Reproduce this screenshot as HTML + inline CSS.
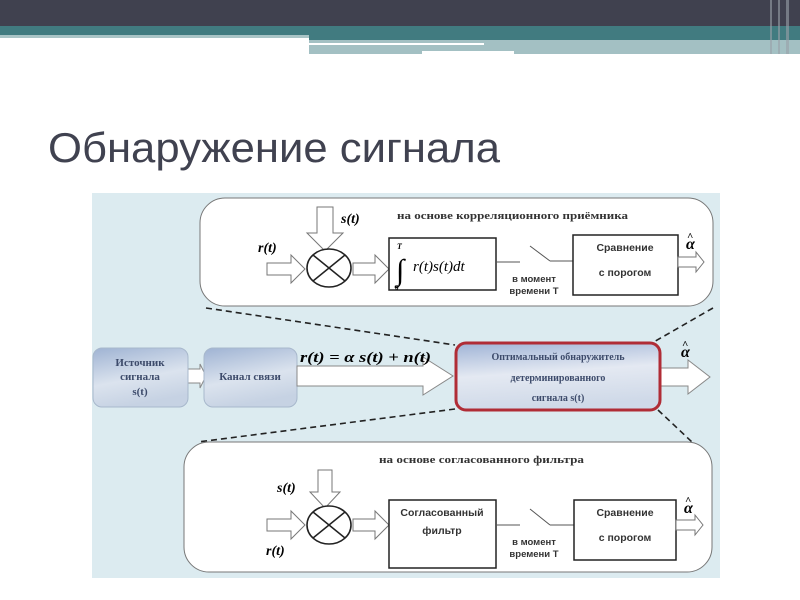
<!DOCTYPE html>
<html><head><meta charset="utf-8"><style>
html,body{margin:0;padding:0;background:#fff;}
svg{display:block}
.s{font-family:"Liberation Serif",serif;font-weight:bold;}
.a{font-family:"Liberation Sans",sans-serif;}
.m{font-family:"Liberation Serif",serif;font-style:italic;font-weight:bold;}
</style></head><body>
<svg width="800" height="600" viewBox="0 0 800 600" xmlns="http://www.w3.org/2000/svg">
<defs>
<linearGradient id="g" x1="0" y1="0" x2="0.3" y2="1">
<stop offset="0" stop-color="#9fb3d3"/><stop offset="0.6" stop-color="#dbe3ee"/><stop offset="1" stop-color="#c6d2e3"/></linearGradient>
<linearGradient id="gr" x1="0" y1="0" x2="0.2" y2="1">
<stop offset="0" stop-color="#9fb3d6"/><stop offset="0.5" stop-color="#e4e9f2"/><stop offset="1" stop-color="#cfd9e8"/></linearGradient>
</defs>
<rect x="0" y="0" width="800" height="26" fill="#40414f"/>
<rect x="0" y="26" width="800" height="9" fill="#417b80"/>
<rect x="0" y="35" width="309" height="3" fill="#a9c4c6"/>
<rect x="309" y="35" width="491" height="5" fill="#417b80"/>
<rect x="309" y="40" width="491" height="14" fill="#a3c0c3"/>
<rect x="309" y="43" width="175" height="2" fill="#fff"/>
<rect x="422" y="51" width="92" height="3" fill="#fff"/>
<rect x="508" y="51" width="0" height="3" fill="#fff"/>
<rect x="770" y="0" width="2" height="54" fill="#9aa0a8" opacity="0.6"/>
<rect x="778" y="0" width="2" height="54" fill="#9aa0a8" opacity="0.6"/>
<rect x="786" y="0" width="3" height="54" fill="#9aa0a8" opacity="0.6"/>
<text x="48" y="162" class="a" font-size="42" fill="#404250" textLength="452" lengthAdjust="spacingAndGlyphs">Обнаружение сигнала</text>

<rect x="92" y="193" width="628" height="385" fill="#dcebf0"/>

<!-- top box -->
<rect x="200" y="198" width="513" height="108" rx="25" fill="#fff" stroke="#777" stroke-width="1"/>
<text x="397" y="219" class="s" font-size="10" fill="#333" textLength="231" lengthAdjust="spacingAndGlyphs">на основе корреляционного приёмника</text>
<polygon points="317,207 333,207 333,233 343,233 325,251 307,233 317,233" fill="#fff" stroke="#777"/>
<text x="341" y="223" class="m" font-size="14">s(t)</text>
<text x="258" y="252" class="m" font-size="14">r(t)</text>
<polygon points="267,263 291,263 291,255 305,269 291,283 291,275 267,275" fill="#fff" stroke="#777"/>
<ellipse cx="329" cy="268" rx="22" ry="19" fill="#fff" stroke="#222" stroke-width="1.6"/>
<line x1="313" y1="255" x2="345" y2="281" stroke="#222" stroke-width="1.5"/>
<line x1="345" y1="255" x2="313" y2="281" stroke="#222" stroke-width="1.5"/>
<polygon points="353,263 375,263 375,255 389,269 375,283 375,275 353,275" fill="#fff" stroke="#777"/>
<rect x="389" y="238" width="107" height="52" fill="#fff" stroke="#222" stroke-width="1.5"/>
<text x="397" y="249" class="m" font-size="8">T</text>
<text x="396" y="280" font-family="Liberation Serif,serif" font-size="30">∫</text>
<text x="395" y="290" class="s" font-size="7">0</text>
<text x="413" y="271" font-family="Liberation Serif,serif" font-style="italic" font-size="15">r(t)s(t)dt</text>
<line x1="496" y1="262" x2="520" y2="262" stroke="#555"/>
<line x1="530" y1="246" x2="550" y2="261" stroke="#555"/>
<line x1="550" y1="261" x2="573" y2="261" stroke="#555"/>
<text x="534" y="282" class="a" font-weight="bold" font-size="9.5" fill="#333" text-anchor="middle">в момент</text>
<text x="534" y="294" class="a" font-weight="bold" font-size="9.5" fill="#333" text-anchor="middle">времени T</text>
<rect x="573" y="235" width="105" height="60" fill="#fff" stroke="#222" stroke-width="1.5"/>
<text x="625" y="251" class="a" font-weight="bold" font-size="10.5" fill="#333" text-anchor="middle">Сравнение</text>
<text x="625" y="276" class="a" font-weight="bold" font-size="10.5" fill="#333" text-anchor="middle">с порогом</text>
<polygon points="678,257 696,257 696,252 704,262 696,272 696,267 678,267" fill="#fff" stroke="#777"/>
<text x="686" y="249" class="m" font-size="16">α</text>
<text x="687" y="240" class="s" font-size="11">^</text>

<!-- dashes -->
<line x1="206" y1="308" x2="455" y2="345" stroke="#222" stroke-width="1.6" stroke-dasharray="6,4"/>
<line x1="713" y1="308" x2="652" y2="343" stroke="#222" stroke-width="1.6" stroke-dasharray="6,4"/>
<line x1="455" y1="409" x2="198" y2="442" stroke="#222" stroke-width="1.6" stroke-dasharray="6,4"/>
<line x1="658" y1="410" x2="692" y2="442" stroke="#222" stroke-width="1.6" stroke-dasharray="6,4"/>

<!-- middle -->
<polygon points="186,369 200,369 200,364 206,376 200,388 200,383 186,383" fill="#fff" stroke="#888"/>
<rect x="93" y="348" width="95" height="59" rx="9" fill="url(#g)" stroke="#a8b8cc"/>
<text x="140" y="366" class="s" font-size="11" fill="#3d4b6b" text-anchor="middle">Источник</text>
<text x="140" y="380" class="s" font-size="11" fill="#3d4b6b" text-anchor="middle">сигнала</text>
<text x="140" y="395" class="s" font-size="11" fill="#3d4b6b" text-anchor="middle">s(t)</text>
<rect x="204" y="348" width="93" height="59" rx="9" fill="url(#g)" stroke="#a8b8cc"/>
<text x="250" y="380" class="s" font-size="11" fill="#3d4b6b" text-anchor="middle">Канал связи</text>
<polygon points="297,366 423,366 423,357 453,376 423,395 423,386 297,386" fill="#fff" stroke="#888"/>
<text x="300" y="362" class="m" font-size="15" textLength="131" lengthAdjust="spacingAndGlyphs">r(t) = α s(t) + n(t)</text>
<polygon points="660,368 688,368 688,360 710,377 688,394 688,386 660,386" fill="#fff" stroke="#888"/>
<text x="681" y="357" class="m" font-size="16">α</text>
<text x="682" y="348" class="s" font-size="11">^</text>
<rect x="456" y="343" width="204" height="67" rx="10" fill="url(#gr)" stroke="#b02c36" stroke-width="3"/>
<text x="558" y="360" class="s" font-size="10" fill="#3d4b6b" text-anchor="middle">Оптимальный обнаружитель</text>
<text x="558" y="381" class="s" font-size="10" fill="#3d4b6b" text-anchor="middle">детерминированного</text>
<text x="558" y="401" class="s" font-size="10" fill="#3d4b6b" text-anchor="middle">сигнала s(t)</text>

<!-- bottom box -->
<rect x="184" y="442" width="528" height="130" rx="25" fill="#fff" stroke="#777"/>
<text x="379" y="463" class="s" font-size="10" fill="#333" textLength="205" lengthAdjust="spacingAndGlyphs">на основе согласованного фильтра</text>
<text x="277" y="492" class="m" font-size="14">s(t)</text>
<polygon points="318,470 332,470 332,492 340,492 325,508 310,492 318,492" fill="#fff" stroke="#777"/>
<polygon points="267,519 291,519 291,511 305,525 291,539 291,531 267,531" fill="#fff" stroke="#777"/>
<text x="266" y="555" class="m" font-size="14">r(t)</text>
<ellipse cx="329" cy="525" rx="22" ry="19" fill="#fff" stroke="#222" stroke-width="1.6"/>
<line x1="313" y1="512" x2="345" y2="538" stroke="#222" stroke-width="1.5"/>
<line x1="345" y1="512" x2="313" y2="538" stroke="#222" stroke-width="1.5"/>
<polygon points="353,519 375,519 375,511 389,525 375,539 375,531 353,531" fill="#fff" stroke="#777"/>
<rect x="389" y="500" width="107" height="68" fill="#fff" stroke="#222" stroke-width="1.5"/>
<text x="442" y="516" class="a" font-weight="bold" font-size="10.5" fill="#333" text-anchor="middle">Согласованный</text>
<text x="442" y="534" class="a" font-weight="bold" font-size="10.5" fill="#333" text-anchor="middle">фильтр</text>
<line x1="496" y1="525" x2="520" y2="525" stroke="#555"/>
<line x1="530" y1="509" x2="550" y2="525" stroke="#555"/>
<line x1="550" y1="525" x2="574" y2="525" stroke="#555"/>
<text x="534" y="545" class="a" font-weight="bold" font-size="9.5" fill="#333" text-anchor="middle">в момент</text>
<text x="534" y="557" class="a" font-weight="bold" font-size="9.5" fill="#333" text-anchor="middle">времени T</text>
<rect x="574" y="500" width="102" height="60" fill="#fff" stroke="#222" stroke-width="1.5"/>
<text x="625" y="516" class="a" font-weight="bold" font-size="10.5" fill="#333" text-anchor="middle">Сравнение</text>
<text x="625" y="541" class="a" font-weight="bold" font-size="10.5" fill="#333" text-anchor="middle">с порогом</text>
<polygon points="676,520 695,520 695,515 703,525 695,535 695,530 676,530" fill="#fff" stroke="#777"/>
<text x="684" y="513" class="m" font-size="16">α</text>
<text x="685" y="504" class="s" font-size="11">^</text>
</svg>
</body></html>
